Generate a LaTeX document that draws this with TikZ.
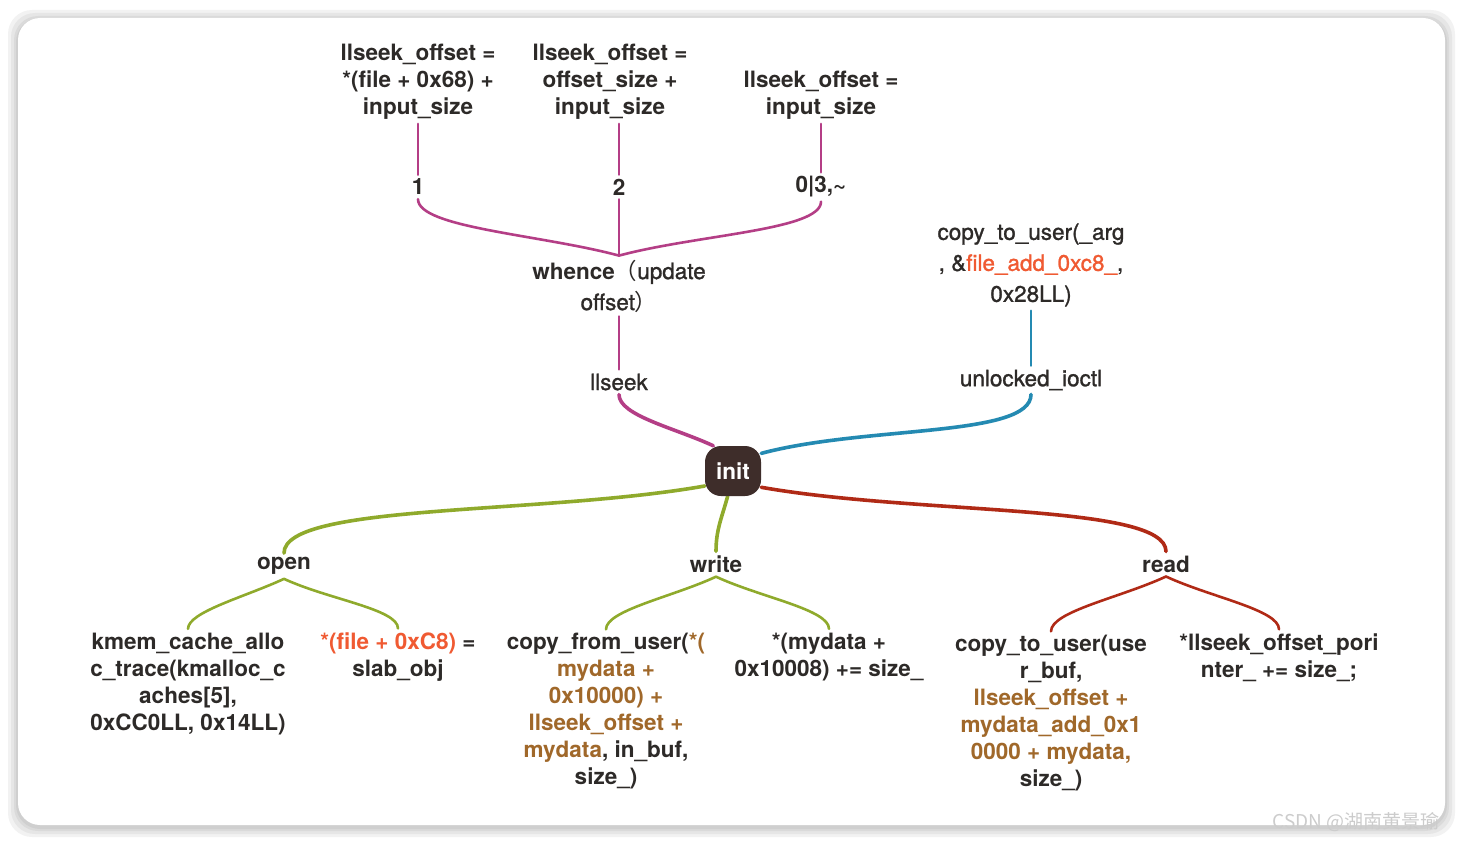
\documentclass[tikz,border=0pt]{standalone}
\usepackage{fontspec}
\setmainfont{TeX Gyre Heros}
\newfontfamily\midfont{TeX Gyre Heros}[FakeBold=1.2]
\newfontfamily\cjk{Noto Sans CJK SC}
\usepackage{xcolor}
\usetikzlibrary{positioning, shapes}
\definecolor{ink}{RGB}{45,42,40}
\definecolor{hubfill}{RGB}{62,45,42}
\definecolor{mag}{RGB}{180,62,134}
\definecolor{sea}{RGB}{36,138,178}
\definecolor{moss}{RGB}{143,170,44}
\definecolor{rust}{RGB}{176,42,22}
\definecolor{hot}{RGB}{240,90,50}
\definecolor{gold}{RGB}{160,104,42}
\pgfdeclarelayer{bg}
\pgfsetlayers{bg,main}
\tikzset{
        every node/.style={text=ink, align=center, inner sep=4pt,
            font=\fontsize{22.5}{27}\selectfont\bfseries}, % all labels
        thin/.style={font=\fontsize{22.5}{27}\selectfont\midfont}, % lighter labels
        branch/.style={line width=2.6pt, line cap=round}, % twigs
        trunk/.style={line width=3.6pt, line cap=round}, % limbs off init
    }
\tikzstyle{hub}=[fill=hubfill,rounded corners=16pt,minimum width=56pt,minimum height=50pt,text=white,inner sep=0pt]
\newcommand{\hl}[1]{\textcolor{hot}{#1}}
\newcommand{\br}[1]{\textcolor{gold}{#1}}

\begin{document}
\begin{tikzpicture}[x=1pt,y=-1pt]
    \useasboundingbox (0,0) rectangle (1463,843);

    % centre
    \node[hub] (init) at (733,471) {init};

    % llseek side
    \node[thin] (llseek) at (619,382) {llseek};
    \node (whence) at (619,286) {whence\mdseries\midfont\cjk{（}\midfont update\\[4pt]\mdseries\midfont offset\cjk{）}};
    \node (one) at (418,187) {1};
    \node (two) at (619,187) {2};
    \node (rest) at (821,187) {0\textbar3,\textasciitilde};
    \node (offA) at (418,82) {llseek\_offset =\\*(file + 0x68) +\\input\_size};
    \node (offB) at (610,82) {llseek\_offset =\\offset\_size +\\input\_size};
    \node (offC) at (821,95.5) {llseek\_offset =\\input\_size};

    % ioctl side
    \node[thin] (ioctl) at (1031,380) {unlocked\_ioctl};
    \node[thin] (argcopy) at (1031,265) {copy\_to\_user(\_arg\\[4pt]\midfont, \&\hl{file\_add\_0xc8\_},\\[4pt]\midfont 0x28LL)};

    % lower branches
    \node (open) at (284,566) {open};
    \node (write) at (716,564) {write};
    \node (read) at (1166,564) {read};
    \node (kmem) at (188,684) {kmem\_cache\_allo\\c\_trace(kmalloc\_c\\aches[5],\\0xCC0LL, 0x14LL)};
    \node (slab) at (398,657) {\hl{*(file + 0xC8)} =\\slab\_obj};
    \node (fromuser) at (606,711.5) {copy\_from\_user(\br{*(}\\\br{mydata +}\\\br{0x10000) +}\\\br{llseek\_offset +}\\\br{mydata}, in\_buf,\\size\_)};
    \node (bump) at (829,657) {*(mydata +\\0x10008) += size\_};
    \node (touser) at (1051,713.5) {copy\_to\_user(use\\r\_buf,\\\br{llseek\_offset +}\\\br{mydata\_add\_0x1}\\\br{0000 + mydata,}\\size\_)};
    \node (pointer) at (1279,657.5) {*llseek\_offset\_pori\\nter\_ += size\_;};

    \node[font=\fontsize{19}{19}\cjk, text=black!20] (mark) at (1356,822) {CSDN @湖南黄景瑜};

    \begin{pgfonlayer}{bg}
        % card with soft shadow
        \foreach \s in {10,7,4,2}
            \fill[black, opacity=0.05, rounded corners=24pt] (18-\s,20-\s) rectangle (1445+\s,827+\s);
        \fill[white, rounded corners=22pt] (18,18) rectangle (1445,825);

        \draw[trunk, mag] (init.128) to[out=155, in=-90, in looseness=0.5] (llseek.south);
        \draw[branch, mag] (llseek.north) -- (whence.south);
        \draw[branch, mag] (whence.north) -- (two.south);
        \draw[branch, mag] (whence.north) to[out=165, in=-90, in looseness=0.35] (one.south);
        \draw[branch, mag] (whence.north) to[out=15, in=-90, in looseness=0.35] (rest.south);
        \draw[branch, mag] (one.north) -- (offA.south);
        \draw[branch, mag] (two.north) -- (two.north |- offB.south);
        \draw[branch, mag] (rest.north) -- (offC.south);

        \draw[trunk, sea] (init.32) to[out=15, in=-90, in looseness=0.4] (ioctl.south);
        \draw[branch, sea] (ioctl.north) -- (argcopy.south);

        \draw[trunk, moss] (init.208) to[out=190, in=90, in looseness=0.3] (open.north);
        \draw[trunk, moss] (init.258) to[out=-105, in=90] (write.north);
        \draw[trunk, rust] (init.-30) to[out=-10, in=90, in looseness=0.3] (read.north);

        % two-way forks
        \foreach \up/\left/\right/\hue in {open/kmem/slab/moss, write/fromuser/bump/moss}{
            \draw[branch, \hue] (\up.south) to[out=-155, in=90, in looseness=0.4] (\left.north);
            \draw[branch, \hue] (\up.south) to[out=-25, in=90, in looseness=0.4] (\right.north);
        }
        \draw[branch, rust] (read.south) to[out=-155, in=90, in looseness=0.4] (touser.north);
        \draw[branch, rust] (read.south) to[out=-25, in=90, in looseness=0.4] (pointer.north);
    \end{pgfonlayer}
\end{tikzpicture}
\end{document}
